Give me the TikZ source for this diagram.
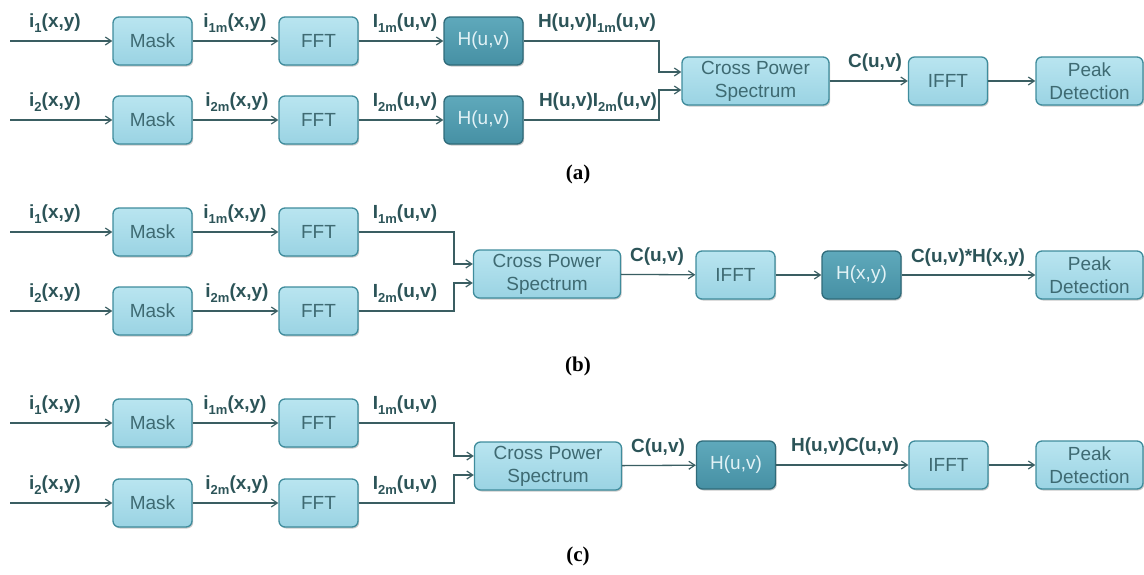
\documentclass[tikz,border=0pt]{standalone}
\usepackage{fontspec}
\setmainfont{Liberation Sans}
\newfontfamily\capfont{Liberation Serif}
\usetikzlibrary{arrows.meta,shadows}
\definecolor{boxtop}{HTML}{B9E5F0}
\definecolor{boxbot}{HTML}{9AD3E3}
\definecolor{boxline}{HTML}{3F8C9C}
\definecolor{boxtext}{HTML}{3E6A72}
\definecolor{dtop}{HTML}{5FA9BB}
\definecolor{dbot}{HTML}{4690A4}
\definecolor{dline}{HTML}{2F6B7A}
\definecolor{dtext}{HTML}{E2F2F6}
\definecolor{labcol}{HTML}{2C5458}
\definecolor{linecol}{HTML}{3A5E62}
\newcommand{\lowsub}[1]{\raisebox{-0.28em}{\fontsize{13}{13}\selectfont #1}}
\begin{document}
\begin{tikzpicture}[x=1pt,y=-1pt,
  lbox/.style={draw=boxline, line width=1.3pt, rounded corners=6pt, top color=boxtop, bottom color=boxbot,
    text=boxtext, font=\fontsize{19}{23}\selectfont, align=center, inner sep=0pt,
    minimum height=48pt, minimum width=79pt,
    drop shadow={shadow xshift=1.2pt, shadow yshift=-1.5pt, opacity=0.3, fill=black!70}},
  dbox/.style={lbox, draw=dline, top color=dtop, bottom color=dbot, text=dtext},
  wide/.style={minimum width=147pt},
  peak/.style={minimum width=107pt},
  lab/.style={text=labcol, font=\bfseries\fontsize{19}{23}\selectfont, anchor=base, inner sep=0pt},
  captxt/.style={font=\capfont\bfseries\fontsize{21}{24}\selectfont, text=black, inner sep=0pt},
  conn/.style={draw=linecol, line width=1.3pt, -{Straight Barb[length=6pt,width=8pt,line width=1.2pt]}}
]
\useasboundingbox (0,0) rectangle (1144,574);

% ---------------- panel (a)
\node[lbox] (maskA1) at (152.5,41) {Mask};
\node[lbox] (fftA1) at (318.5,41) {FFT};
\node[dbox] (hA1) at (483.5,41) {H(u,v)};
\node[lbox] (maskA2) at (152.5,120) {Mask};
\node[lbox] (fftA2) at (318.5,120) {FFT};
\node[dbox] (hA2) at (483.5,120) {H(u,v)};
\node[lbox,wide] (cpsA) at (755.5,81) {Cross Power\\Spectrum};
\node[lbox] (ifftA) at (948,81) {IFFT};
\node[lbox,peak] (peakA) at (1089.5,81) {Peak\\Detection};
\coordinate (inA1) at (10,41);
\coordinate (inA2) at (10,120);
\coordinate (kA1) at (659,72);
\coordinate (kA2) at (659,90);
\draw[conn] (inA1) -- (maskA1);
\draw[conn] (maskA1) -- (fftA1);
\draw[conn] (fftA1) -- (hA1);
\draw[conn] (inA2) -- (maskA2);
\draw[conn] (maskA2) -- (fftA2);
\draw[conn] (fftA2) -- (hA2);
\draw[conn] (hA1.east) -| (kA1) -- (kA1 -| cpsA.west);
\draw[conn] (hA2.east) -| (kA2) -- (kA2 -| cpsA.west);
\draw[conn] (cpsA) -- (ifftA);
\draw[conn] (ifftA) -- (peakA);
\node[lab] (lA1) at (55,27) {i\lowsub{1}(x,y)};
\node[lab] (lA2) at (235,27) {i\lowsub{1m}(x,y)};
\node[lab] (lA3) at (405,27) {I\lowsub{1m}(u,v)};
\node[lab] (lA4) at (597,27) {H(u,v)I\lowsub{1m}(u,v)};
\node[lab] (lA5) at (55,106) {i\lowsub{2}(x,y)};
\node[lab] (lA6) at (237,106) {i\lowsub{2m}(x,y)};
\node[lab] (lA7) at (405,106) {I\lowsub{2m}(u,v)};
\node[lab] (lA8) at (598,106) {H(u,v)I\lowsub{2m}(u,v)};
\node[lab] (lA9) at (875,67) {C(u,v)};
\node[captxt] (capA) at (578,174) {(a)};

% ---------------- panel (b)
\node[lbox] (maskB1) at (152.5,232) {Mask};
\node[lbox] (fftB1) at (318.5,232) {FFT};
\node[lbox] (maskB2) at (152.5,311) {Mask};
\node[lbox] (fftB2) at (318.5,311) {FFT};
\node[lbox,wide] (cpsB) at (547,274) {Cross Power\\Spectrum};
\node[lbox] (ifftB) at (735.5,275) {IFFT};
\node[dbox] (hB) at (861.5,275) {H(x,y)};
\node[lbox,peak] (peakB) at (1089.5,275) {Peak\\Detection};
\coordinate (inB1) at (10,232);
\coordinate (inB2) at (10,311);
\coordinate (kB1) at (454,264);
\coordinate (kB2) at (454,283);
\draw[conn] (inB1) -- (maskB1);
\draw[conn] (maskB1) -- (fftB1);
\draw[conn] (inB2) -- (maskB2);
\draw[conn] (maskB2) -- (fftB2);
\draw[conn] (fftB1.east) -| (kB1) -- (kB1 -| cpsB.west);
\draw[conn] (fftB2.east) -| (kB2) -- (kB2 -| cpsB.west);
\draw[conn] (cpsB) -- (ifftB);
\draw[conn] (ifftB) -- (hB);
\draw[conn] (hB) -- (peakB);
\node[lab] (lB1) at (55,218) {i\lowsub{1}(x,y)};
\node[lab] (lB2) at (235,218) {i\lowsub{1m}(x,y)};
\node[lab] (lB3) at (405,218) {I\lowsub{1m}(u,v)};
\node[lab] (lB5) at (55,297) {i\lowsub{2}(x,y)};
\node[lab] (lB6) at (237,297) {i\lowsub{2m}(x,y)};
\node[lab] (lB7) at (405,297) {I\lowsub{2m}(u,v)};
\node[lab] (lB8) at (657,261) {C(u,v)};
\node[lab] (lB9) at (968,262) {C(u,v)*H(x,y)};
\node[captxt] (capB) at (578,366) {(b)};

% ---------------- panel (c)
\node[lbox] (maskC1) at (152.5,423) {Mask};
\node[lbox] (fftC1) at (318.5,423) {FFT};
\node[lbox] (maskC2) at (152.5,503) {Mask};
\node[lbox] (fftC2) at (318.5,503) {FFT};
\node[lbox,wide] (cpsC) at (548,466) {Cross Power\\Spectrum};
\node[dbox] (hC) at (736,465) {H(u,v)};
\node[lbox] (ifftC) at (948.5,465) {IFFT};
\node[lbox,peak] (peakC) at (1089.5,465) {Peak\\Detection};
\coordinate (inC1) at (10,423);
\coordinate (inC2) at (10,503);
\coordinate (kC1) at (454,456);
\coordinate (kC2) at (454,475);
\draw[conn] (inC1) -- (maskC1);
\draw[conn] (maskC1) -- (fftC1);
\draw[conn] (inC2) -- (maskC2);
\draw[conn] (maskC2) -- (fftC2);
\draw[conn] (fftC1.east) -| (kC1) -- (kC1 -| cpsC.west);
\draw[conn] (fftC2.east) -| (kC2) -- (kC2 -| cpsC.west);
\draw[conn] (cpsC) -- (hC);
\draw[conn] (hC) -- (ifftC);
\draw[conn] (ifftC) -- (peakC);
\node[lab] (lC1) at (55,409) {i\lowsub{1}(x,y)};
\node[lab] (lC2) at (235,409) {i\lowsub{1m}(x,y)};
\node[lab] (lC3) at (405,409) {I\lowsub{1m}(u,v)};
\node[lab] (lC5) at (55,489) {i\lowsub{2}(x,y)};
\node[lab] (lC6) at (237,489) {i\lowsub{2m}(x,y)};
\node[lab] (lC7) at (405,489) {I\lowsub{2m}(u,v)};
\node[lab] (lC8) at (658,452) {C(u,v)};
\node[lab] (lC9) at (845,451) {H(u,v)C(u,v)};
\node[captxt] (capC) at (578,556) {(c)};
\end{tikzpicture}
\end{document}
